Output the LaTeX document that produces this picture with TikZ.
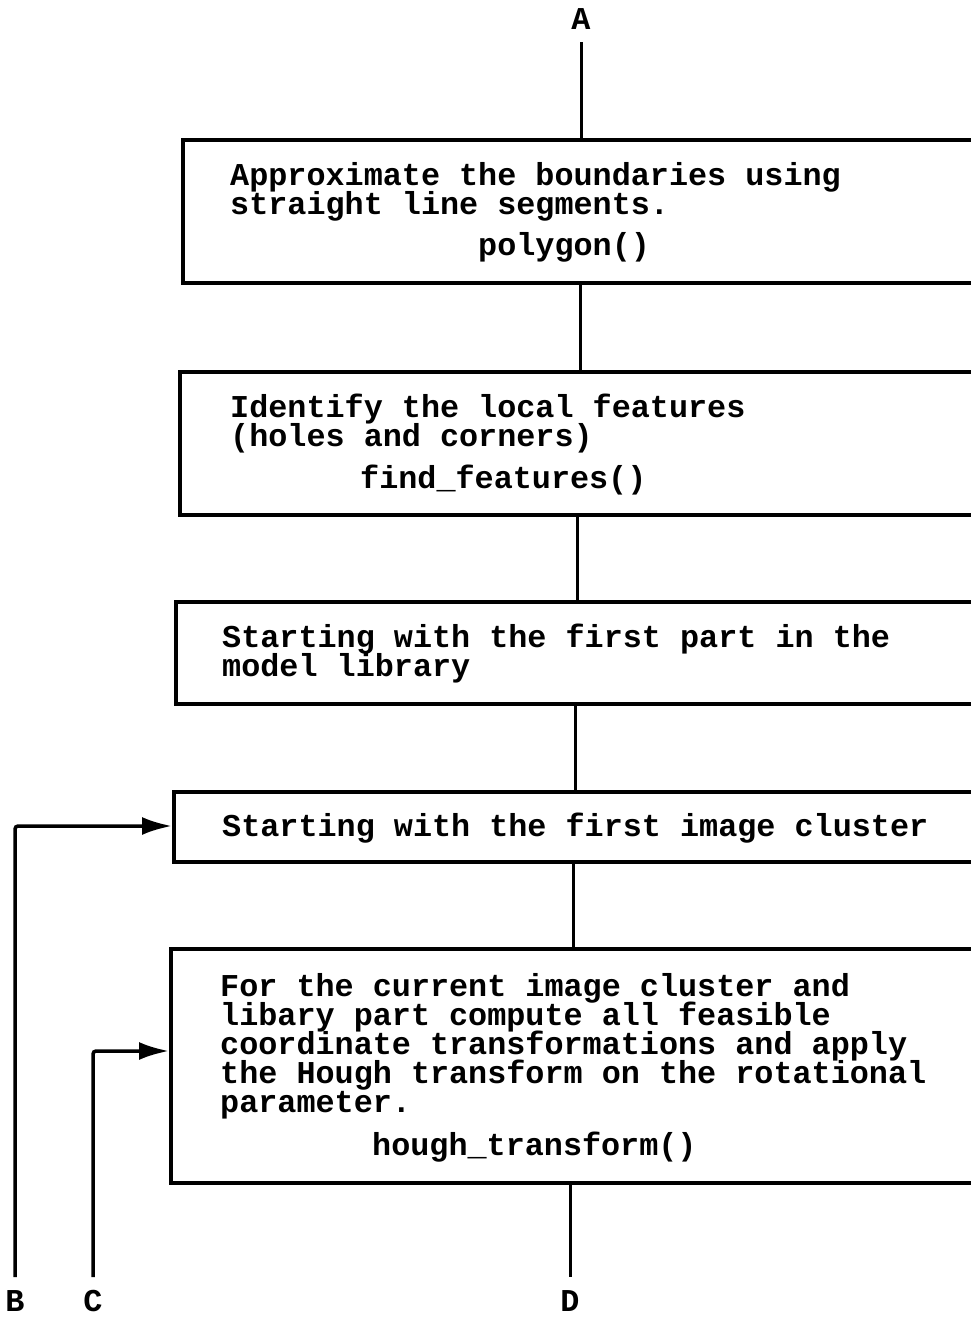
\documentclass[tikz,border=0pt]{standalone}
\usepackage{fontspec}
\newfontfamily\cour{Liberation Mono}
\usetikzlibrary{arrows.meta}
\tikzset{
  box/.style={draw=black, line width=3.5pt, fill=none, anchor=north west, inner sep=0pt},
  txt/.style={inner sep=0pt, anchor=base west, font=\cour\bfseries\fontsize{31.8}{29}\selectfont},
  lbl/.style={inner sep=0pt, anchor=base, font=\cour\bfseries\fontsize{31.8}{29}\selectfont},
  conn/.style={line width=3pt},
  arr/.style={line width=3.5pt, -{Latex[length=30pt,width=18pt]}, rounded corners=3pt}
}
\begin{document}
\begin{tikzpicture}[x=1pt,y=-1pt]
\useasboundingbox (0,0) rectangle (971,1318);
\fill[white] (0,0) rectangle (971,1318);
\clip (0,0) rectangle (971,1318);

% boxes
\node[box, minimum width=860pt, minimum height=143pt] (b1) at (181,138) {};
\node[box, minimum width=860pt, minimum height=143pt] (b2) at (178,370) {};
\node[box, minimum width=860pt, minimum height=102pt] (b3) at (174,600) {};
\node[box, minimum width=860pt, minimum height=70pt] (b4) at (172,790) {};
\node[box, minimum width=860pt, minimum height=234pt] (b5) at (169,947) {};

% texts
\node[txt] (t1a) at (230,185) {Approximate the boundaries using};
\node[txt] (t1b) at (230,214) {straight line segments.};
\node[txt] (t1c) at (478,255) {polygon()};

\node[txt] (t2a) at (230,417) {Identify the local features};
\node[txt] (t2b) at (230,446) {(holes and corners)};
\node[txt] (t2c) at (360,488) {find\_features()};

\node[txt] (t3a) at (222,647) {Starting with the first part in the};
\node[txt] (t3b) at (222,676) {model library};

\node[txt] (t4a) at (222,836) {Starting with the first image cluster};

\node[txt] (t5a) at (220,996) {For the current image cluster and};
\node[txt] (t5b) at (220,1025) {libary part compute all feasible};
\node[txt] (t5c) at (220,1054) {coordinate transformations and apply};
\node[txt] (t5d) at (220,1083) {the Hough transform on the rotational};
\node[txt] (t5e) at (220,1112) {parameter.};
\node[txt] (t5f) at (372,1155) {hough\_transform()};

% labels
\node[lbl] (A) at (581,29) {A};
\node[lbl] (B) at (15,1311) {B};
\node[lbl] (C) at (93,1311) {C};
\node[lbl] (D) at (570,1311) {D};

% coordinates
\coordinate (a0) at (581,42);
\coordinate (d0) at (570,1277);
\coordinate (bb) at (15,1277);
\coordinate (cc) at (93,1277);

% vertical connectors
\draw[conn] (a0) -- (a0 |- b1.north);
\draw[conn] (580,281) coordinate (p1) -- (p1 |- b2.north);
\draw[conn] (577,513) coordinate (p2) -- (p2 |- b3.north);
\draw[conn] (575,702) coordinate (p3) -- (p3 |- b4.north);
\draw[conn] (573,860) coordinate (p4) -- (p4 |- b5.north);
\draw[conn] (d0 |- b5.south) -- (d0);

% loop arrows
\draw[arr] (bb) -- (15,826) -- (b4.west |- 0,826);
\draw[arr] (cc) -- (93,1051) -- (b5.west |- 0,1051);
\end{tikzpicture}
\end{document}
